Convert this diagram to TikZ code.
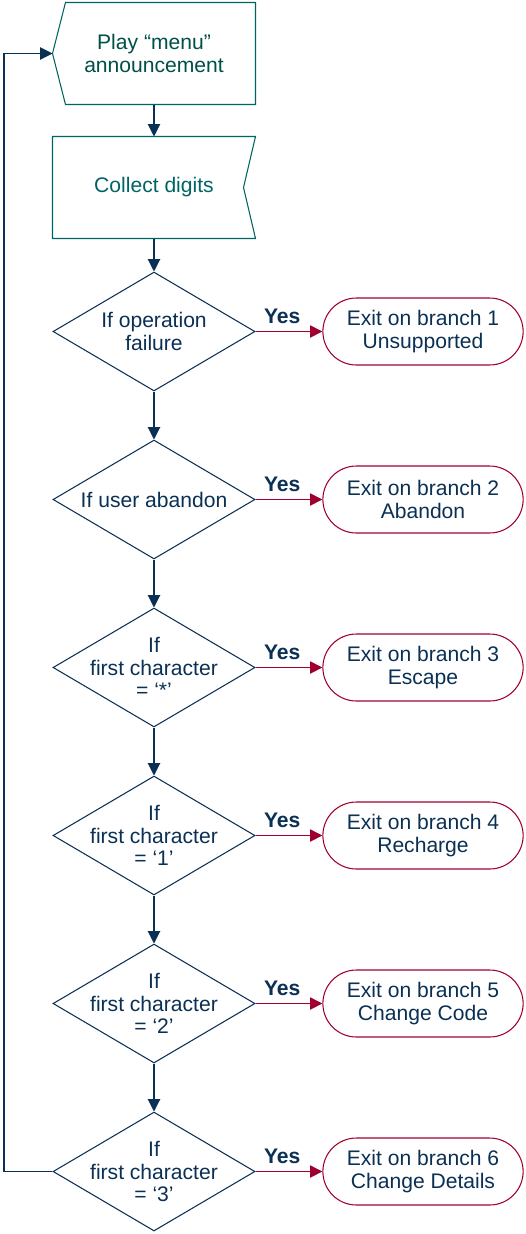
\documentclass[tikz,border=0pt]{standalone}
\usepackage{fontspec}
\setmainfont{Liberation Sans}
\usetikzlibrary{shapes.geometric, shapes.misc, arrows.meta}
\definecolor{flownavy}{RGB}{10,48,84}
\definecolor{flowred}{RGB}{160,0,48}
\definecolor{flowteal}{RGB}{0,100,100}
\definecolor{playtext}{RGB}{0,80,72}

\begin{document}
\begin{tikzpicture}[x=0.02cm, y=-0.02cm, line width=0.6pt,
  >={Triangle[length=7pt, width=7pt]},
  every node/.style={font=\fontsize{12}{13}\selectfont, align=center},
  test/.style={diamond, draw=flownavy, minimum width=4.04cm, minimum height=2.38cm, inner sep=0pt},
  exitbox/.style={rounded rectangle, draw=flowred, minimum width=4.24cm, minimum height=1.34cm, text=flownavy},
  yes/.style={above, pos=0.4, inner sep=4pt, text=flownavy, font=\fontsize{12}{13}\selectfont\bfseries}]
  \useasboundingbox (0,0) rectangle (526,1234);
  \node (play) at (154,53.5) [minimum width=4.04cm, minimum height=2.02cm, text=playtext] {Play “menu”\\announcement};
  \draw[flowteal] ([xshift=0.26cm]play.north west) -- (play.north east) -- (play.south east) -- ([xshift=0.26cm]play.south west) -- (play.west) -- cycle;
  \node (collect) at (154,187.5) [minimum width=4.04cm, minimum height=2.02cm, text=flowteal] {Collect digits};
  \draw[flowteal] (collect.north west) -- (collect.north east) -- ([xshift=-0.24cm]collect.east) -- (collect.south east) -- (collect.south west) -- cycle;
  \node[test, label={[text=flownavy]center:{If operation\\failure}}] (fail) at (154,331.5) {};
  \node[test, label={[text=flownavy]center:{If user abandon}}] (quit) at (154,499.5) {};
  \node[test, label={[text=flownavy]center:{If\\first character\\= ‘*’}}] (star) at (154,667.5) {};
  \node[test, label={[text=flownavy]center:{If\\first character\\= ‘1’}}] (key1) at (154,835.5) {};
  \node[test, label={[text=flownavy]center:{If\\first character\\= ‘2’}}] (key2) at (154,1003.5) {};
  \node[test, label={[text=flownavy]center:{If\\first character\\= ‘3’}}] (key3) at (154,1171.5) {};
  \node[exitbox] (exit1) at (423,331.5) {Exit on branch 1\\Unsupported};
  \node[exitbox] (exit2) at (423,499.5) {Exit on branch 2\\Abandon};
  \node[exitbox] (exit3) at (423,667.5) {Exit on branch 3\\Escape};
  \node[exitbox] (exit4) at (423,835.5) {Exit on branch 4\\Recharge};
  \node[exitbox] (exit5) at (423,1003.5) {Exit on branch 5\\Change Code};
  \node[exitbox] (exit6) at (423,1171.5) {Exit on branch 6\\Change Details};
  \draw[->, flownavy] (play.south) -- (collect.north);
  \draw[->, flownavy] (collect.south) -- (fail.north);
  \draw[->, flownavy] (fail.south) -- (quit.north);
  \draw[->, flownavy] (quit.south) -- (star.north);
  \draw[->, flownavy] (star.south) -- (key1.north);
  \draw[->, flownavy] (key1.south) -- (key2.north);
  \draw[->, flownavy] (key2.south) -- (key3.north);
  \draw[->, flowred] (fail.east) -- node[yes] {Yes} (exit1.west);
  \draw[->, flowred] (quit.east) -- node[yes] {Yes} (exit2.west);
  \draw[->, flowred] (star.east) -- node[yes] {Yes} (exit3.west);
  \draw[->, flowred] (key1.east) -- node[yes] {Yes} (exit4.west);
  \draw[->, flowred] (key2.east) -- node[yes] {Yes} (exit5.west);
  \draw[->, flowred] (key3.east) -- node[yes] {Yes} (exit6.west);
  \coordinate (back) at (4,1171.5);
  \draw[->, flownavy] (key3.west) -- (back) |- (play.west);
\end{tikzpicture}
\end{document}
